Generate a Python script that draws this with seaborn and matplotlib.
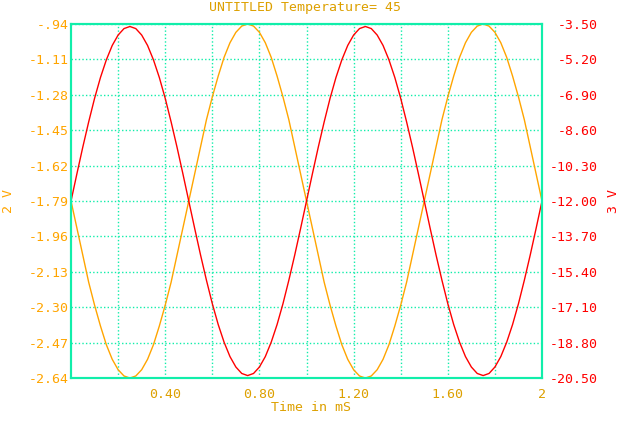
import pandas as pd
import seaborn as sns
import matplotlib
matplotlib.use("Agg")
import matplotlib.pyplot as plt

# sample times (mS)
time_ms = [0.000, 0.025, 0.050, 0.075, 0.100, 0.125, 0.150, 0.175, 0.200, 0.225,
           0.250, 0.275, 0.300, 0.325, 0.350, 0.375, 0.400, 0.425, 0.450, 0.475,
           0.500, 0.525, 0.550, 0.575, 0.600, 0.625, 0.650, 0.675, 0.700, 0.725,
           0.750, 0.775, 0.800, 0.825, 0.850, 0.875, 0.900, 0.925, 0.950, 0.975,
           1.000, 1.025, 1.050, 1.075, 1.100, 1.125, 1.150, 1.175, 1.200, 1.225,
           1.250, 1.275, 1.300, 1.325, 1.350, 1.375, 1.400, 1.425, 1.450, 1.475,
           1.500, 1.525, 1.550, 1.575, 1.600, 1.625, 1.650, 1.675, 1.700, 1.725,
           1.750, 1.775, 1.800, 1.825, 1.850, 1.875, 1.900, 1.925, 1.950, 1.975,
           2.000]

# node 2 voltage (left axis, orange)
v2 = [-1.79, -1.92, -2.05, -2.18, -2.29, -2.39, -2.48, -2.55, -2.60, -2.63,
      -2.64, -2.63, -2.60, -2.55, -2.48, -2.39, -2.29, -2.18, -2.05, -1.92,
      -1.79, -1.66, -1.53, -1.40, -1.29, -1.19, -1.10, -1.03, -0.98, -0.95,
      -0.94, -0.95, -0.98, -1.03, -1.10, -1.19, -1.29, -1.40, -1.53, -1.66,
      -1.79, -1.92, -2.05, -2.18, -2.29, -2.39, -2.48, -2.55, -2.60, -2.63,
      -2.64, -2.63, -2.60, -2.55, -2.48, -2.39, -2.29, -2.18, -2.05, -1.92,
      -1.79, -1.66, -1.53, -1.40, -1.29, -1.19, -1.10, -1.03, -0.98, -0.95,
      -0.94, -0.95, -0.98, -1.03, -1.10, -1.19, -1.29, -1.40, -1.53, -1.66,
      -1.79]

# node 3 voltage (right axis, red)
v3 = [-12.00, -10.69, -9.41, -8.20, -7.07, -6.07, -5.22, -4.53, -4.03, -3.72,
      -3.62, -3.72, -4.03, -4.53, -5.22, -6.07, -7.07, -8.20, -9.41, -10.69,
      -12.00, -13.31, -14.59, -15.80, -16.93, -17.93, -18.78, -19.47, -19.97, -20.28,
      -20.38, -20.28, -19.97, -19.47, -18.78, -17.93, -16.93, -15.80, -14.59, -13.31,
      -12.00, -10.69, -9.41, -8.20, -7.07, -6.07, -5.22, -4.53, -4.03, -3.72,
      -3.62, -3.72, -4.03, -4.53, -5.22, -6.07, -7.07, -8.20, -9.41, -10.69,
      -12.00, -13.31, -14.59, -15.80, -16.93, -17.93, -18.78, -19.47, -19.97, -20.28,
      -20.38, -20.28, -19.97, -19.47, -18.78, -17.93, -16.93, -15.80, -14.59, -13.31,
      -12.00]

x_ticks = [0.4, 0.8, 1.2, 1.6, 2.0]
x_labels = ["0.40", "0.80", "1.20", "1.60", "2"]
x_grid = [0.2, 0.6, 1.0, 1.4, 1.8]
left_ticks = [-2.64, -2.47, -2.30, -2.13, -1.96, -1.79, -1.62, -1.45, -1.28, -1.11, -0.94]
left_labels = ["-2.64", "-2.47", "-2.30", "-2.13", "-1.96", "-1.79",
               "-1.62", "-1.45", "-1.28", "-1.11", "-.94"]
right_ticks = [-20.5, -18.8, -17.1, -15.4, -13.7, -12.0, -10.3, -8.6, -6.9, -5.2, -3.5]
right_labels = ["-20.50", "-18.80", "-17.10", "-15.40", "-13.70", "-12.00",
                "-10.30", "-8.60", "-6.90", "-5.20", "-3.50"]

df = pd.DataFrame({"time": time_ms, "v2": v2, "v3": v3})

sns.set_style("white")
plt.rcParams["font.family"] = ["DejaVu Sans Mono"]
plt.rcParams["font.size"] = 9.5

ORANGE = "#FFA500"
GOLD = "#DDA000"
RED = "#FF0000"
GRID = "#11EEAA"

fig = plt.figure(figsize=(6.23, 4.21), dpi=100)
ax = fig.add_axes([0.114, 0.102, 0.756, 0.841])

sns.lineplot(data=df, x="time", y="v2", ax=ax, color=ORANGE, linewidth=1)
ax2 = ax.twinx()
sns.lineplot(data=df, x="time", y="v3", ax=ax2, color=RED, linewidth=1)

ax.set_xlim(0, 2)
ax.set_ylim(-2.64, -0.94)
ax2.set_ylim(-20.5, -3.5)

ax.set_xticks(x_ticks)
ax.set_xticklabels(x_labels, color=GOLD)
ax.set_xticks(x_grid, minor=True)
ax.set_yticks(left_ticks)
ax.set_yticklabels(left_labels, color=ORANGE)
ax2.set_yticks(right_ticks)
ax2.set_yticklabels(right_labels, color=RED, ha="right")

ax.tick_params(axis="x", which="both", length=0, pad=7)
ax.tick_params(axis="y", length=0, pad=1.5)
ax2.tick_params(axis="y", length=0, pad=40)

dots = dict(color=GRID, linestyle=(0, (1, 1.6)), linewidth=1)
ax.grid(True, axis="x", which="both", **dots)
ax.grid(True, axis="y", which="major", **dots)
ax2.grid(False)

ax.set_xlabel("")
ax.set_ylabel("")
ax2.set_ylabel("")
for a in (ax, ax2):
    for s in a.spines.values():
        s.set_color(GRID)
        s.set_linewidth(1.5)

fig.text(0.49, 0.981, "UNTITLED Temperature= 45", color=GOLD, ha="center", va="center")
fig.text(0.499, 0.033, "Time in mS", color=GOLD, ha="center", va="center")
fig.text(0.013, 0.523, "2 V", color=ORANGE, rotation=90, ha="center", va="center")
fig.text(0.984, 0.523, "3 V", color=RED, rotation=90, ha="center", va="center")

plt.savefig("out.png", dpi=100)
